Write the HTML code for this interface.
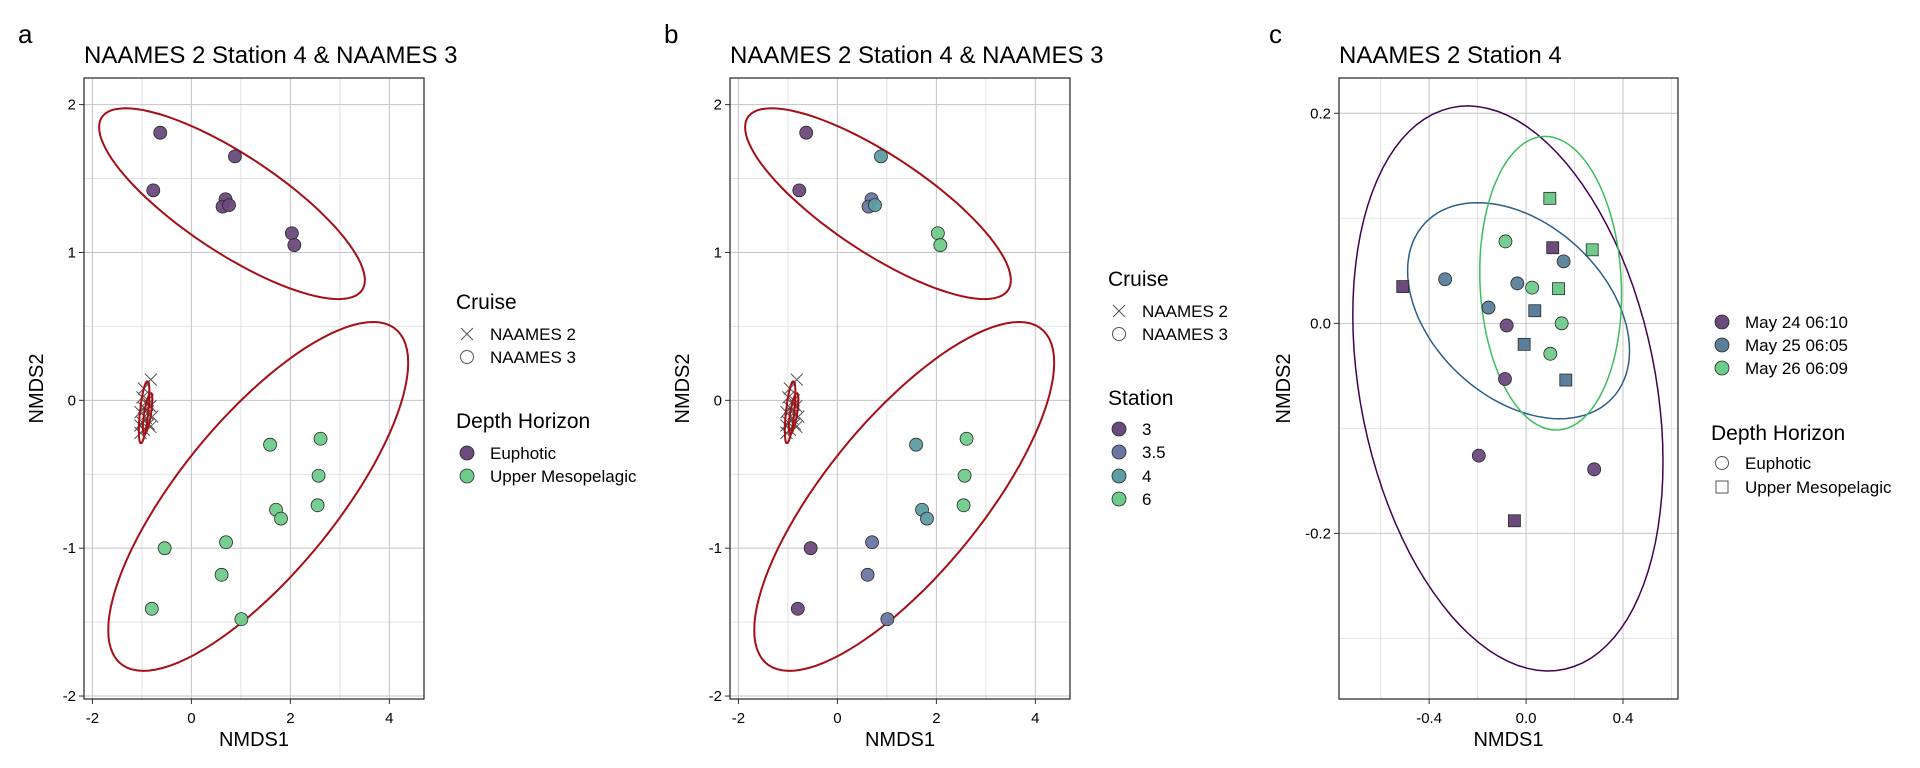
<!DOCTYPE html>
<html><head><meta charset="utf-8"><style>
body{margin:0;background:#fff;}
svg{display:block;font-family:"Liberation Sans",Arial,sans-serif;}
</style></head><body>
<svg id="fig" width="1920" height="768" viewBox="0 0 1920 768"></svg>
<script>
// ---- data ----
const upperX=[-0.63,0.88,-0.77,0.69,0.63,0.76,2.03,2.08];
const upperY=[1.81,1.65,1.42,1.36,1.31,1.32,1.13,1.05];
const upperStation=["3","4","3","3.5","3.5","4","6","6"];
const lowerX=[1.59,2.61,2.57,2.55,1.71,1.81,0.70,-0.54,0.61,-0.80,1.01];
const lowerY=[-0.30,-0.26,-0.51,-0.71,-0.74,-0.80,-0.96,-1.00,-1.18,-1.41,-1.48];
const lowerStation=["4","6","6","6","4","4","3.5","3","3.5","3","3.5"];
const n2X=[-0.82,-0.96,-0.99,-0.88,-0.83,-0.96,-1.03,-0.89,-0.79,-0.92,-0.99,-0.86,-1.03,-0.83,-0.96,-1.03,-0.89,-0.92];
const n2Y=[0.14,0.08,0.02,0.0,-0.04,-0.05,-0.08,-0.09,-0.11,-0.12,-0.15,-0.16,-0.17,-0.18,-0.20,-0.22,-0.03,-0.06];
// ellipses: center x,y, a-vector, b-vector (data units)
const ellAB=[[0.82,1.33,2.685,-0.517,0,0.386],[1.35,-0.65,3.03,0.904,0,0.758],[-0.955,-0.08,0.065,0.21,0.085,0],[-0.885,-0.09,0.065,0.14,0.07,0]];
const cX=[-0.509,-0.334,-0.085,0.110,0.098,0.273,0.155,-0.036,0.025,0.134,-0.155,0.036,-0.080,0.147,-0.008,0.100,-0.087,0.164,-0.195,0.281,-0.048];
const cY=[0.035,0.042,0.078,0.072,0.119,0.070,0.059,0.038,0.034,0.033,0.015,0.012,-0.002,0.000,-0.020,-0.029,-0.053,-0.054,-0.126,-0.139,-0.188];
const cDay=[0,1,2,0,2,2,1,1,2,2,1,1,0,2,1,2,0,1,0,0,0];
const cShape=["s","c","c","s","s","s","c","c","c","s","c","s","c","c","s","c","c","s","c","c","s"];
const ellC=[[-0.075,-0.062,0.64,-0.0698,0,0.2598],[-0.031,0.012,0.458,-0.038,0,0.0956],[0.1015,0.0382,0.2925,-0.01075,0,0.1394]];
const abTicksX=[-2,0,2,4], abTicksY=[-2,-1,0,1,2];
const abMinorX=[-1,1,3], abMinorY=[-1.5,-0.5,0.5,1.5];
const cTicksX=[-0.4,0,0.4], cTickLabX=["-0.4","0.0","0.4"];
const cTicksY=[-0.2,0,0.2], cTickLabY=["-0.2","0.0","0.2"];
const cMinorX=[-0.6,-0.2,0.2,0.6], cMinorY=[-0.3,-0.1,0.1];
const stationCol={"3":"#6b4a7c","3.5":"#6b77a3","4":"#5e9da3","6":"#6fcb8a"};
const dayFill=["#6b4a7c","#5b7f9b","#6fcb8a"], dayLine=["#440154","#2b5f88","#3dbd5e"];
const dayLab=["May 24 06:10","May 25 06:05","May 26 06:09"];

const NS="http://www.w3.org/2000/svg", svg=document.getElementById('fig');
function el(t,a,p){const e=document.createElementNS(NS,t);for(const k in a)e.setAttribute(k,a[k]);(p||svg).appendChild(e);return e;}
function txt(s,x,y,size,anchor,p){const t=el('text',{x:x,y:y,'font-size':size,'text-anchor':anchor||'start',fill:'#000'},p);t.textContent=s;return t;}
function ellPath(sx,sy,e){let d='';for(let i=0;i<=100;i++){const t=i/100*2*Math.PI;const x=e[0]+e[2]*Math.cos(t)+e[4]*Math.sin(t);const y=e[1]+e[3]*Math.cos(t)+e[5]*Math.sin(t);d+=(i?'L':'M')+sx(x).toFixed(1)+' '+sy(y).toFixed(1);}return d;}

function panel(o){
  const g=el('g',{});
  
  
  const sx=v=>o.L+(v-o.x0)/(o.x1-o.x0)*(o.R-o.L);
  const sy=v=>o.B-(v-o.y0)/(o.y1-o.y0)*(o.B-o.T);
  o.minX.forEach(v=>el('line',{x1:sx(v),x2:sx(v),y1:o.T,y2:o.B,stroke:'#e2e2e2','stroke-width':1},g));
  o.minY.forEach(v=>el('line',{x1:o.L,x2:o.R,y1:sy(v),y2:sy(v),stroke:'#e2e2e2','stroke-width':1},g));
  o.tx.forEach((v,i)=>{el('line',{x1:sx(v),x2:sx(v),y1:o.T,y2:o.B,stroke:'#c4c4c4','stroke-width':1},g);
    el('line',{x1:sx(v),x2:sx(v),y1:o.B,y2:o.B+5,stroke:'#333','stroke-width':1},g);
    const t=txt(o.txl[i],sx(v),o.B+24,15,'middle',g);});
  o.ty.forEach((v,i)=>{el('line',{x1:o.L,x2:o.R,y1:sy(v),y2:sy(v),stroke:'#c4c4c4','stroke-width':1},g);
    el('line',{x1:o.L-5,x2:o.L,y1:sy(v),y2:sy(v),stroke:'#333','stroke-width':1},g);
    const t=txt(o.tyl[i],o.L-8,sy(v)+5,15,'end',g);});
  el('rect',{x:o.L,y:o.T,width:o.R-o.L,height:o.B-o.T,fill:'none',stroke:'#222','stroke-width':1.2},g);
  const x1=txt('NMDS1',(o.L+o.R)/2,o.B+47,20,'middle',g);
  const y2=txt('NMDS2',0,0,20,'middle',g);y2.setAttribute('transform','translate('+o.ylx+','+(o.T+o.B)/2+') rotate(-90)');
  
  const tt=txt(o.title,o.L,63,24,'start',g);
  const pl=txt(o.letter,o.lx,43,26,'start',g);
  return {g,sx,sy};
}
function dot(g,x,y,fill,nm){const c=el('circle',{cx:x,cy:y,r:6.5,fill:fill,'fill-opacity':0.95,stroke:'#2a2a2a','stroke-width':0.8},g);
  return c;}
function cross(g,x,y){const p=el('path',{d:`M${x-6} ${y-6}L${x+6} ${y+6}M${x+6} ${y-6}L${x-6} ${y+6}`,stroke:'#555','stroke-width':1},g);
  }

function abPanel(off,letter,name,colorFn){
  const P=panel({name:name,L:84+off,R:424+off,T:78,B:699,x0:-2.17,x1:4.7,y0:-2.02,y1:2.18,tx:abTicksX,txl:abTicksX.map(String),ty:abTicksY,tyl:abTicksY.map(String),minX:abMinorX,minY:abMinorY,title:'NAAMES 2 Station 4 & NAAMES 3',letter:letter,lx:18+off,ylx:43+off});
  n2X.forEach((v,i)=>cross(P.g,P.sx(v),P.sy(n2Y[i])));
  ellAB.forEach(e=>{const p=el('path',{d:ellPath(P.sx,P.sy,e),fill:'none',stroke:'#a50f15','stroke-width':2},P.g);
    });
  upperX.forEach((v,i)=>dot(P.g,P.sx(v),P.sy(upperY[i]),colorFn(true,i),'euphotic-point'));
  lowerX.forEach((v,i)=>dot(P.g,P.sx(v),P.sy(lowerY[i]),colorFn(false,i),'mesopelagic-point'));
}
abPanel(0,'a','panel-a-depth',(up)=>up?'#6b4a7c':'#6fcb8a');
abPanel(646,'b','panel-b-station',(up,i)=>stationCol[up?upperStation[i]:lowerStation[i]]);

// panel c
const C=panel({name:'panel-c-station4',L:1339,R:1678,T:78,B:699,x0:-0.772,x1:0.627,y0:-0.3577,y1:0.2336,tx:cTicksX,txl:cTickLabX,ty:cTicksY,tyl:cTickLabY,minX:cMinorX,minY:cMinorY,title:'NAAMES 2 Station 4',letter:'c',lx:1269,ylx:1290});
ellC.forEach((e,i)=>{const p=el('path',{d:ellPath(C.sx,C.sy,e),fill:'none',stroke:dayLine[i],'stroke-width':1.5},C.g);
  });
cX.forEach((v,i)=>{const x=C.sx(v),y=C.sy(cY[i]);
  if(cShape[i]==='s'){const r=el('rect',{x:x-6,y:y-6,width:12,height:12,fill:dayFill[cDay[i]],stroke:'#2a2a2a','stroke-width':0.8},C.g);
    }
  else dot(C.g,x,y,dayFill[cDay[i]],'euphotic-point');});

// legends
function legend(x,items){const g=el('g',{});
  items.forEach(it=>{
    if(it.t==='title'){txt(it.s,x,it.y+7,21,'start',g);return;}
    if(it.t==='x')el('path',{d:`M${x+5} ${it.y-6}L${x+17} ${it.y+6}M${x+17} ${it.y-6}L${x+5} ${it.y+6}`,stroke:'#555','stroke-width':1},g);
    if(it.t==='o')el('circle',{cx:x+11,cy:it.y,r:6.5,fill:'#fff',stroke:'#555','stroke-width':1},g);
    if(it.t==='sq')el('rect',{x:x+5,y:it.y-6,width:12,height:12,fill:'#fff',stroke:'#555','stroke-width':1},g);
    if(it.t==='f')el('circle',{cx:x+11,cy:it.y,r:7,fill:it.c,stroke:'#2a2a2a','stroke-width':0.8},g);
    const t=txt(it.s,x+34,it.y+6,17,'start',g);
  });}
legend(456,[{t:'title',s:'Cruise',y:302},{t:'x',s:'NAAMES 2',y:334},{t:'o',s:'NAAMES 3',y:357},
  {t:'title',s:'Depth Horizon',y:421},{t:'f',c:'#6b4a7c',s:'Euphotic',y:453},{t:'f',c:'#6fcb8a',s:'Upper Mesopelagic',y:476}]);
legend(1108,[{t:'title',s:'Cruise',y:279},{t:'x',s:'NAAMES 2',y:311},{t:'o',s:'NAAMES 3',y:334},
  {t:'title',s:'Station',y:398},{t:'f',c:stationCol["3"],s:'3',y:429},{t:'f',c:stationCol["3.5"],s:'3.5',y:452},
  {t:'f',c:stationCol["4"],s:'4',y:476},{t:'f',c:stationCol["6"],s:'6',y:499}]);
legend(1711,[{t:'f',c:dayFill[0],s:dayLab[0],y:322},{t:'f',c:dayFill[1],s:dayLab[1],y:345},{t:'f',c:dayFill[2],s:dayLab[2],y:368},
  {t:'title',s:'Depth Horizon',y:433},{t:'o',s:'Euphotic',y:463},{t:'sq',s:'Upper Mesopelagic',y:487}]);
</script>
</body></html>
